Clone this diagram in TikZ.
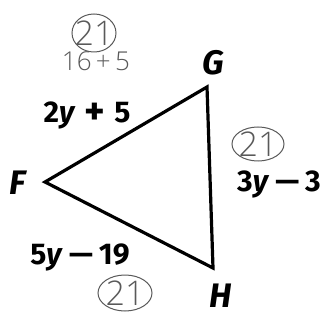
\documentclass[tikz,border=0pt]{standalone}
\usepackage{fontspec}
\setmainfont{Fira Sans}
\newfontfamily\handfont{Open Sans Light}[Scale=1]
\begin{document}
\begin{tikzpicture}[x=1pt,y=-1pt,
  lbl/.style={font=\fontsize{30}{30}\selectfont\bfseries, inner sep=0pt},
  vtx/.style={font=\fontsize{34}{34}\selectfont\bfseries\itshape, inner sep=0pt},
  hand/.style={font=\fontsize{34}{34}\selectfont\handfont, text=black!65, inner sep=0pt},
  small/.style={font=\fontsize{26}{26}\selectfont\handfont, text=black!65, inner sep=0pt},
  ring/.style={draw=black!65, line width=1pt},
  side/.style={line width=3.2pt, line join=miter}]
\useasboundingbox (0,0) rectangle (326,320);
\coordinate (F) at (45,182);
\coordinate (G) at (207,87);
\coordinate (H) at (213,268);
\draw[side] (F) -- (G) -- (H) -- cycle;
\node[vtx] (lF) at (18,183) {F};
\node[vtx] (lG) at (213,63) {G};
\node[vtx] (lH) at (221,296) {H};
\node[lbl] (eFG) at (87,115) {2\textit{y}\hspace{0.3em}\raisebox{-0.09em}{\scalebox{1.3}{+}}\hspace{0.3em}5};
\node[lbl] (eGH) at (279,184) {3\textit{y}\hspace{0.2em}—\hspace{0.2em}3};
\node[lbl] (eFH) at (80,257) {5\textit{y}\hspace{0.2em}—\hspace{0.2em}19};
\node[hand] (c1) at (94,33) {21};
\draw[ring] (c1) ellipse (22pt and 19pt);
\node[small] (s1) at (96,61) {16\,+\,5};
\node[hand] (c2) at (258,144) {21};
\draw[ring] (c2) ellipse (26pt and 17pt);
\node[hand] (c3) at (125,293) {21};
\draw[ring] (c3) ellipse (27pt and 18pt);
\end{tikzpicture}
\end{document}
